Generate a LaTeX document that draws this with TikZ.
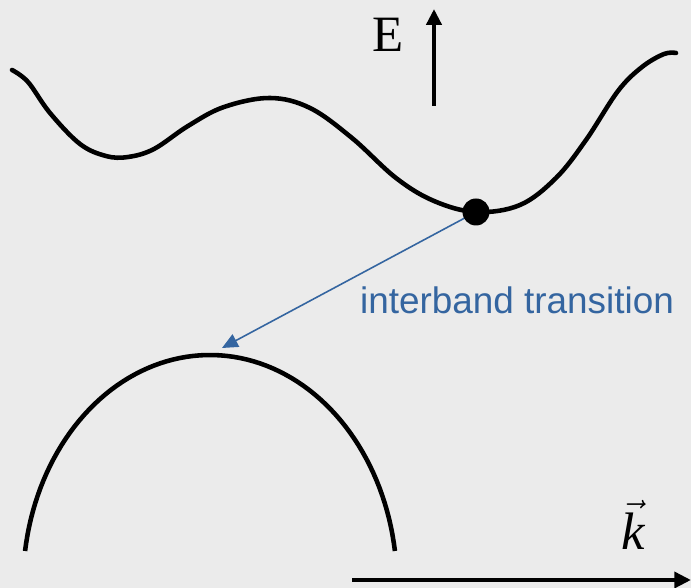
\documentclass[tikz,border=0pt]{standalone}
\usepackage{fontspec}
\setmainfont{Liberation Serif}
\newfontfamily\labelfont{Liberation Sans}
\usetikzlibrary{arrows.meta}
\definecolor{bgcol}{RGB}{235,235,235}
\definecolor{transblue}{RGB}{52,101,160}

\begin{document}
\begin{tikzpicture}[x=0.02cm,y=0.02cm]
        \fill[bgcol] (0,0) rectangle (691,588);
        \useasboundingbox (0,0) rectangle (691,588);

        \coordinate (D) at (476,376);
        \coordinate (T) at (222,240);

        % conduction band
        \draw[line width=2.6pt, line cap=round] plot[smooth, tension=0.6] coordinates {
            (12,518) (28,506) (50,475) (80,444) (106,432) (128,431) (154,439)
            (188,462) (224,481) (270,490) (310,480) (352,450) (396,410)
            (434,387) (476,376) (520,383) (556,410) (586,448) (618,497)
            (642,521) (664,534) (676,535)};

        % valence band
        \draw[line width=2.6pt] plot[domain=171.5:8.5, samples=80]
            ({210+187*cos(\x)}, {3+230*sin(\x)});

        \draw[transblue, line width=0.9pt, -{Triangle[length=9pt,width=8pt]}] (D) -- (T);
        \fill (D) circle (13.5);

        \node[text=transblue, font=\labelfont\fontsize{21}{25}\selectfont] (lbl) at (517,288) {interband transition};

        \coordinate (E0) at (434,482);
        \coordinate (E1) at (434,579);
        \draw[line width=2.3pt, -{Triangle[length=9pt,width=8.5pt]}] (E0) -- (E1);
        \node[font=\fontsize{29}{34}\selectfont] (Elbl) at (388,553) {E};

        \coordinate (K0) at (352,8);
        \coordinate (K1) at (691,8);
        \draw[line width=2.3pt, -{Triangle[length=9.5pt,width=9pt]}] (K0) -- (K1);
        \node[font=\fontsize{30}{36}\selectfont] (klbl) at (633,63) {$\vec{\textit{k}}$};
    \end{tikzpicture}
\end{document}
